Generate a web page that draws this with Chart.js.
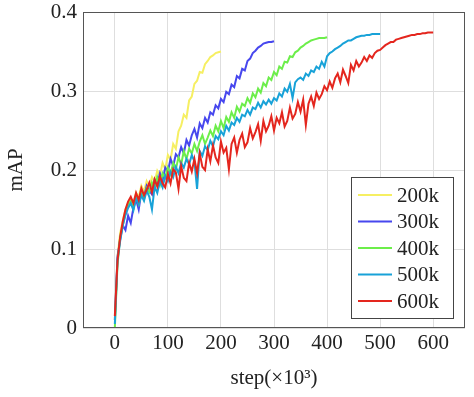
<!DOCTYPE html>
<html>
<head>
    <title>mAP vs step</title>
    <meta charset="utf-8">
    <style>
        body { margin: 0; background: #fff; }
        #wrap { width: 474px; height: 397px; }
    </style>
</head>
<body>
    <div id="wrap"><canvas id="mapChart" width="474" height="397"></canvas></div>

    <script src="https://cdn.jsdelivr.net/npm/chart.js"></script>
    <script>
        // steps (x1000), every 5k
        var steps = [0,5,10,15,20,25,30,35,40,45,50,55,60,65,70,75,80,85,90,95,
            100,105,110,115,120,125,130,135,140,145,150,155,160,165,170,175,180,185,190,195,
            200,205,210,215,220,225,230,235,240,245,250,255,260,265,270,275,280,285,290,295,
            300,305,310,315,320,325,330,335,340,345,350,355,360,365,370,375,380,385,390,395,
            400,405,410,415,420,425,430,435,440,445,450,455,460,465,470,475,480,485,490,495,
            500,505,510,515,520,525,530,535,540,545,550,555,560,565,570,575,580,585,590,595,600];

        var xTicks = [0, 100, 200, 300, 400, 500, 600];
        var yTicks = [0, 0.1, 0.2, 0.3, 0.4];
        var labels = ['200k', '300k', '400k', '500k', '600k'];
        var colors = ['#f6ef62', '#4747ee', '#6cee4a', '#18a2d8', '#e4261e'];

        var map200k = [0.01,0.09,0.12,0.136,0.15,0.158,0.164,0.157,0.171,0.166,
            0.18,0.173,0.186,0.179,0.191,0.185,0.199,0.193,0.209,0.201,
            0.219,0.213,0.233,0.227,0.249,0.256,0.27,0.266,0.288,0.293,
            0.309,0.313,0.324,0.323,0.334,0.338,0.343,0.345,0.348,0.349,
            0.35];

        var map300k = [0.01,0.09,0.112,0.13,0.124,0.142,0.133,0.152,0.163,0.15,
            0.172,0.166,0.18,0.174,0.169,0.188,0.182,0.196,0.187,0.203,
            0.198,0.214,0.205,0.22,0.216,0.229,0.221,0.238,0.231,0.244,
            0.252,0.241,0.259,0.253,0.266,0.26,0.273,0.27,0.282,0.278,
            0.29,0.286,0.299,0.296,0.308,0.305,0.319,0.316,0.328,0.326,
            0.338,0.341,0.348,0.351,0.355,0.357,0.36,0.361,0.362,0.362,
            0.363];

        var map400k = [0,0.08,0.115,0.13,0.145,0.155,0.161,0.151,0.166,0.157,
            0.171,0.163,0.177,0.172,0.184,0.176,0.191,0.181,0.196,0.19,
            0.203,0.195,0.209,0.201,0.216,0.207,0.224,0.214,0.227,0.221,
            0.233,0.224,0.236,0.244,0.233,0.241,0.25,0.243,0.256,0.249,
            0.262,0.253,0.267,0.261,0.273,0.266,0.28,0.274,0.284,0.281,
            0.291,0.285,0.297,0.292,0.303,0.298,0.31,0.306,0.317,0.314,
            0.324,0.32,0.331,0.328,0.337,0.336,0.344,0.343,0.349,0.351,
            0.355,0.357,0.36,0.362,0.364,0.365,0.366,0.367,0.367,0.367,
            0.368];

        var map500k = [0.005,0.085,0.11,0.13,0.143,0.152,0.158,0.149,0.164,0.157,
            0.168,0.161,0.174,0.166,0.15,0.179,0.171,0.186,0.178,0.193,
            0.186,0.198,0.191,0.204,0.196,0.209,0.203,0.214,0.207,0.219,
            0.211,0.176,0.224,0.218,0.23,0.225,0.237,0.23,0.243,0.239,
            0.249,0.244,0.256,0.25,0.26,0.257,0.266,0.261,0.27,0.268,
            0.276,0.27,0.279,0.277,0.285,0.279,0.287,0.283,0.289,0.284,
            0.291,0.288,0.297,0.293,0.303,0.299,0.309,0.291,0.311,0.315,
            0.317,0.314,0.322,0.319,0.326,0.324,0.331,0.328,0.337,0.331,
            0.344,0.348,0.35,0.353,0.355,0.357,0.36,0.362,0.364,0.364,
            0.366,0.368,0.369,0.37,0.37,0.371,0.371,0.372,0.372,0.372,
            0.372];

        var map600k = [0.015,0.085,0.115,0.135,0.15,0.16,0.166,0.158,0.171,0.162,
            0.177,0.168,0.175,0.184,0.172,0.188,0.179,0.192,0.183,0.178,
            0.195,0.183,0.201,0.197,0.176,0.205,0.19,0.186,0.209,0.198,
            0.214,0.196,0.221,0.204,0.2,0.226,0.211,0.231,0.216,0.209,
            0.236,0.222,0.228,0.201,0.233,0.241,0.222,0.238,0.246,0.229,
            0.235,0.253,0.24,0.248,0.258,0.237,0.262,0.249,0.256,0.268,
            0.25,0.266,0.259,0.273,0.255,0.262,0.279,0.265,0.271,0.286,
            0.274,0.289,0.257,0.284,0.293,0.281,0.298,0.29,0.296,0.306,
            0.301,0.312,0.304,0.316,0.322,0.311,0.327,0.319,0.31,0.333,
            0.326,0.338,0.331,0.336,0.343,0.338,0.345,0.342,0.348,0.351,
            0.352,0.355,0.358,0.36,0.362,0.362,0.365,0.366,0.367,0.368,
            0.369,0.37,0.371,0.371,0.372,0.372,0.373,0.373,0.374,0.374,
            0.374];

        var series = [map200k, map300k, map400k, map500k, map600k];
        var serif = "'Liberation Serif', 'DejaVu Serif', serif";

        var datasets = series.map(function (vals, i) {
            return {
                label: labels[i],
                data: vals.map(function (v, j) { return { x: steps[j], y: v }; }),
                borderColor: colors[i],
                borderWidth: 2,
                pointRadius: 0,
                tension: 0,
                fill: false,
                order: series.length - 1 - i // later runs on top
            };
        });

        // frame round the plot and the boxed legend, pgfplots style
        var framePlugin = {
            id: 'frame',
            afterDraw: function (chart) {
                var ctx = chart.ctx;
                var a = chart.chartArea;
                ctx.save();
                ctx.strokeStyle = '#555';
                ctx.lineWidth = 1;
                ctx.strokeRect(a.left + 0.5, a.top + 0.5, a.right - a.left - 1, a.bottom - a.top - 1);

                var bx = 351, by = 177, bw = 102, bh = 141;
                ctx.fillStyle = '#fff';
                ctx.fillRect(bx, by, bw, bh);
                ctx.strokeStyle = '#444';
                ctx.strokeRect(bx + 0.5, by + 0.5, bw, bh);

                ctx.font = '21px ' + serif;
                ctx.textBaseline = 'middle';
                ctx.textAlign = 'left';
                for (var i = 0; i < labels.length; i++) {
                    var ry = by + 18 + i * 26.5;
                    ctx.strokeStyle = colors[i];
                    ctx.lineWidth = 2;
                    ctx.beginPath();
                    ctx.moveTo(bx + 7, ry);
                    ctx.lineTo(bx + 41, ry);
                    ctx.stroke();
                    ctx.fillStyle = '#222';
                    ctx.fillText(labels[i], bx + 46, ry + 1);
                }
                ctx.restore();
            }
        };

        var ctx = document.getElementById('mapChart').getContext('2d');
        new Chart(ctx, {
            type: 'line',
            data: { datasets: datasets },
            options: {
                responsive: false,
                animation: false,
                devicePixelRatio: 1,
                layout: { padding: { left: 0, right: 9, top: 12, bottom: 0 } },
                plugins: {
                    legend: { display: false },
                    tooltip: { enabled: false }
                },
                scales: {
                    x: {
                        type: 'linear',
                        min: -60,
                        max: 660,
                        afterBuildTicks: function (s) { s.ticks = xTicks.map(function (v) { return { value: v }; }); },
                        afterFit: function (s) { s.height = 69; },
                        grid: { color: '#dedede', drawTicks: false },
                        border: { display: false },
                        ticks: { color: '#222', padding: 3, maxRotation: 0, font: { family: serif, size: 21 } },
                        title: { display: true, text: 'step(×10³)', color: '#222', padding: { top: 6, bottom: 6 }, font: { family: serif, size: 21 } }
                    },
                    y: {
                        min: 0,
                        max: 0.4,
                        afterBuildTicks: function (s) { s.ticks = yTicks.map(function (v) { return { value: v }; }); },
                        afterFit: function (s) { s.width = 83; },
                        grid: { color: '#dedede', drawTicks: false },
                        border: { display: false },
                        // small lineHeight so the top label does not push the plot down
                        ticks: { color: '#222', padding: 6, font: { family: serif, size: 21, lineHeight: 0.5 } },
                        title: { display: true, text: 'mAP', color: '#222', padding: { top: 4, bottom: 4 }, font: { family: serif, size: 21 } }
                    }
                }
            },
            plugins: [framePlugin]
        });
    </script>
</body>
</html>
